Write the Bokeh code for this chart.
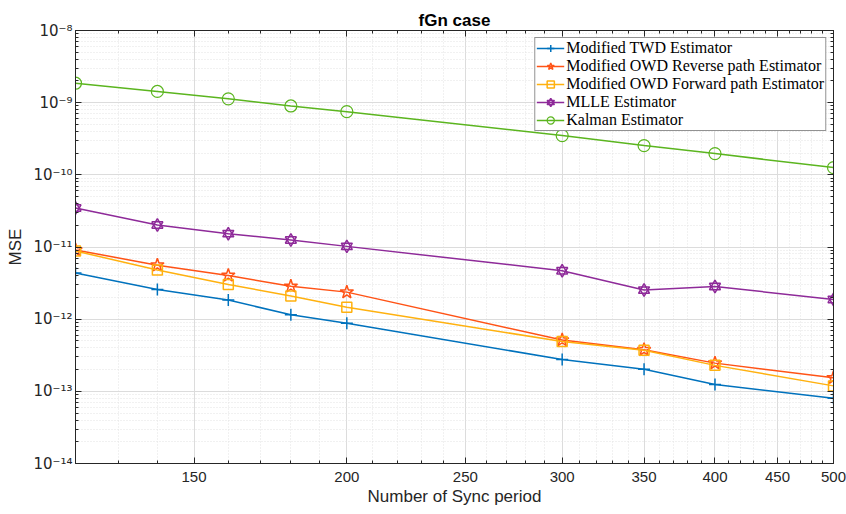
from bokeh.plotting import figure
from bokeh.models import (FixedTicker, CustomJSTickFormatter, LogAxis, Legend, LegendItem, Range1d)
from bokeh.embed import file_html
from bokeh.resources import INLINE

# ---- data ----
sync_period = [120, 140, 160, 180, 200, 300, 350, 400, 500]
mse_twd = [4.37e-12, 2.58e-12, 1.84e-12, 1.15e-12, 8.8e-13, 2.76e-13, 2.03e-13, 1.24e-13, 8.0e-14]
mse_owd_rev = [9.1e-12, 5.6e-12, 4.04e-12, 2.85e-12, 2.37e-12, 5.13e-13, 3.77e-13, 2.46e-13, 1.54e-13]
mse_owd_fwd = [8.8e-12, 4.8e-12, 3.03e-12, 2.09e-12, 1.46e-12, 4.91e-13, 3.72e-13, 2.29e-13, 1.19e-13]
mse_mlle = [3.47e-11, 2.02e-11, 1.53e-11, 1.25e-11, 1.02e-11, 4.69e-12, 2.53e-12, 2.84e-12, 1.87e-12]
mse_kalman = [1.86e-9, 1.43e-9, 1.13e-9, 9.0e-10, 7.5e-10, 3.5e-10, 2.54e-10, 1.97e-10, 1.26e-10]

series_names = ["Modified TWD Estimator",
                "Modified OWD Reverse path Estimator",
                "Modified OWD Forward path Estimator",
                "MLLE Estimator",
                "Kalman Estimator"]

x_major = [150, 200, 250, 300, 350, 400, 450, 500]
x_minor = list(range(130, 500, 10))
y_major = [1e-14, 1e-13, 1e-12, 1e-11, 1e-10, 1e-9, 1e-8]
y_minor = [k * 10.0 ** e for e in range(-14, -8) for k in range(2, 10)]

C_BLUE = "#0072BD"
C_RED = "#FF5316"
C_YEL = "#FFB10F"
C_PUR = "#8E2A99"
C_GRN = "#5BB51F"

p = figure(width=846, height=514, x_axis_type="log", y_axis_type="log",
           x_range=Range1d(120, 500), y_range=Range1d(1e-14, 1e-8),
           output_backend="svg", toolbar_location=None,
           min_border_left=75, min_border_right=13, min_border_top=30, min_border_bottom=51)
p.background_fill_color = "white"
p.border_fill_color = "white"
p.outline_line_color = "#262626"
p.outline_line_width = 1

p.title.text = "fGn case"
p.title.align = "center"
p.title.text_font = "Liberation Sans"
p.title.text_font_size = "17px"
p.title.text_font_style = "bold"
p.title.text_color = "#000000"
p.title.standoff = 1

sup = CustomJSTickFormatter(code="""
const m = {'-':'\u207b','0':'\u2070','1':'\u00b9','2':'\u00b2','3':'\u00b3','4':'\u2074','5':'\u2075','6':'\u2076','7':'\u2077','8':'\u2078','9':'\u2079'};
const e = String(Math.round(Math.log10(tick)));
let s = '';
for (const c of e) { s += m[c]; }
return '10' + s;
""")
xfmt = CustomJSTickFormatter(code="return tick.toFixed(0);")
blank = CustomJSTickFormatter(code="return '';")

xt = FixedTicker(ticks=x_major, minor_ticks=x_minor)
yt = FixedTicker(ticks=y_major, minor_ticks=y_minor)

def style_axis(ax):
    ax.major_tick_in = 6
    ax.major_tick_out = 0
    ax.minor_tick_in = 3
    ax.minor_tick_out = 0
    ax.axis_line_color = "#262626"
    ax.major_tick_line_color = "#262626"
    ax.minor_tick_line_color = "#262626"
    ax.major_label_text_font = "Liberation Sans"
    ax.major_label_text_font_size = "15px"
    ax.major_label_text_color = "#262626"
    ax.axis_label_text_font = "Liberation Sans"
    ax.axis_label_text_font_size = "17px"
    ax.axis_label_text_font_style = "normal"
    ax.axis_label_text_color = "#262626"

xa = p.xaxis[0]
xa.ticker = xt
xa.formatter = xfmt
xa.axis_label = "Number of Sync period"
style_axis(xa)
xa.major_label_standoff = 8
xa.axis_label_standoff = 2

ya = p.yaxis[0]
ya.ticker = yt
ya.formatter = sup
ya.axis_label = "MSE"
style_axis(ya)
ya.major_label_text_font = "DejaVu Sans"
ya.major_label_text_font_size = "15px"
ya.major_label_standoff = 3
ya.axis_label_standoff = 5

top = LogAxis(ticker=xt, formatter=blank)
style_axis(top)
top.major_label_standoff = 0
top.major_label_text_font_size = "1px"
p.add_layout(top, "above")
right = LogAxis(ticker=yt, formatter=blank)
style_axis(right)
right.major_label_standoff = 0
right.major_label_text_font_size = "1px"
p.add_layout(right, "right")

for g in (p.xgrid[0], p.ygrid[0]):
    g.grid_line_color = "#dcdcdc"
    g.grid_line_width = 1
    g.minor_grid_line_color = "#e3e3e3"
    g.minor_grid_line_dash = "1 2"
    g.minor_grid_line_width = 1
p.xgrid[0].ticker = xt
p.ygrid[0].ticker = yt

LW = 1.5
items = []
r1 = p.line(sync_period, mse_twd, line_color=C_BLUE, line_width=LW)
m1 = p.scatter(sync_period, mse_twd, marker="cross", size=12, line_color=C_BLUE, line_width=1.5)
items.append(LegendItem(label=series_names[0], renderers=[r1, m1]))

r2 = p.line(sync_period, mse_owd_rev, line_color=C_RED, line_width=LW)
m2 = p.scatter(sync_period, mse_owd_rev, marker="star", size=14, line_color=C_RED, fill_color=None, line_width=1.5)
items.append(LegendItem(label=series_names[1], renderers=[r2, m2]))

r3 = p.line(sync_period, mse_owd_fwd, line_color=C_YEL, line_width=LW)
m3 = p.scatter(sync_period, mse_owd_fwd, marker="square", size=10, line_color=C_YEL, fill_color=None, line_width=1.5)
items.append(LegendItem(label=series_names[2], renderers=[r3, m3]))

r4 = p.line(sync_period, mse_mlle, line_color=C_PUR, line_width=LW)
m4a = p.scatter(sync_period, mse_mlle, marker="triangle", size=11, line_color=C_PUR, fill_color=None, line_width=1.5)
m4b = p.scatter(sync_period, mse_mlle, marker="inverted_triangle", size=11, line_color=C_PUR, fill_color=None, line_width=1.5)
items.append(LegendItem(label=series_names[3], renderers=[r4, m4a, m4b]))

r5 = p.line(sync_period, mse_kalman, line_color=C_GRN, line_width=LW)
m5 = p.scatter(sync_period, mse_kalman, marker="circle", size=12, line_color=C_GRN, fill_color=None, line_width=1.2)
items.append(LegendItem(label=series_names[4], renderers=[r5, m5]))

leg = Legend(items=items, location="top_right")
leg.label_text_font = "Liberation Serif"
leg.label_text_font_size = "16px"
leg.label_text_color = "#000000"
leg.border_line_color = "#262626"
leg.border_line_width = 1
leg.background_fill_color = "white"
leg.background_fill_alpha = 1
leg.margin = 7
leg.padding = 1
leg.spacing = 0
leg.glyph_width = 28
leg.glyph_height = 18
leg.label_height = 18
leg.label_standoff = 2
p.add_layout(leg, "center")

open("out.html", "w").write(file_html(p, INLINE))
